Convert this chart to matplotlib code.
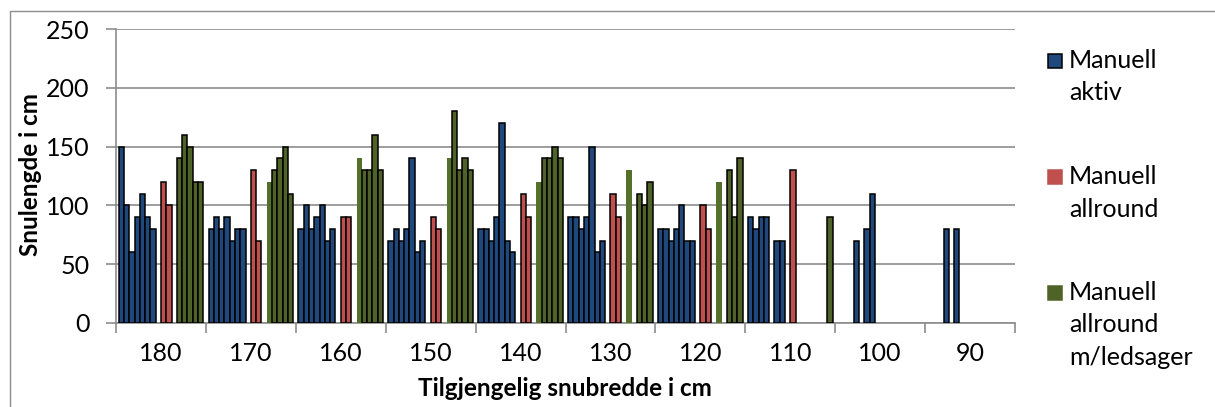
import matplotlib
matplotlib.use("Agg")
import matplotlib.pyplot as plt
from matplotlib.patches import Rectangle

plt.rcParams['font.family'] = ['Lato', 'DejaVu Sans']

# one entry per 10 cm group (label), slots inside a group: 7 aktiv, 2 allround, 5 ledsager
groups = ["180", "170", "160", "150", "140", "130", "120", "110", "100", "90"]
aktiv = [[150, 100, 60, 90, 110, 90, 80],
         [80, 90, 80, 90, 70, 80, 80],
         [80, 100, 80, 90, 100, 70, 80],
         [70, 80, 70, 80, 140, 60, 70],
         [80, 80, 70, 90, 170, 70, 60],
         [90, 90, 80, 90, 150, 60, 70],
         [80, 80, 70, 80, 100, 70, 70],
         [90, 80, 90, 90, 0, 70, 70],
         [0, 0, 0, 70, 0, 80, 110],
         [0, 0, 0, 80, 0, 80, 0]]
allround = [[120, 100], [130, 70], [90, 90], [90, 80], [110, 90],
            [110, 90], [100, 80], [130, 0], [0, 0], [0, 0]]
ledsager = [[140, 160, 150, 120, 120],
            [120, 130, 140, 150, 110],
            [140, 130, 130, 160, 130],
            [140, 180, 130, 140, 130],
            [120, 140, 140, 150, 140],
            [130, 0, 110, 100, 120],
            [120, 0, 130, 90, 140],
            [0, 0, 0, 0, 90],
            [0, 0, 0, 0, 0],
            [0, 0, 0, 0, 0]]
# first ledsager bar drawn without outline in these groups
no_edge = [False, True, True, True, True, True, True, False, False, False]

blue = "#1F497D"
red = "#C0504D"
green = "#4F6228"
grey = "#8C8C8C"

W, H = 1215, 407
fig = plt.figure(figsize=(W / 100, H / 100), dpi=100)
ax = fig.add_axes([116 / W, 1 - 322.7 / H, (1015 - 116) / W, (322.7 - 29.3) / H])

n = 17
for k in range(len(groups)):
    x0 = n * k
    xs = [x0 + 1 + i for i, v in enumerate(aktiv[k]) if v]
    hs = [v for v in aktiv[k] if v]
    ax.bar(xs, hs, width=1, color=blue, edgecolor="black", linewidth=1.1, zorder=3)
    xs = [x0 + 9 + i for i, v in enumerate(allround[k]) if v]
    hs = [v for v in allround[k] if v]
    ax.bar(xs, hs, width=1, color=red, edgecolor="black", linewidth=1.1, zorder=3)
    for i, v in enumerate(ledsager[k]):
        if not v:
            continue
        if i == 0 and no_edge[k]:
            ax.bar(x0 + 12 + i, v, width=1, color="#55702a", linewidth=0, zorder=3)
        else:
            ax.bar(x0 + 12 + i, v, width=1, color=green, edgecolor="black",
                   linewidth=1.1, zorder=3)

ax.set_xlim(0, n * len(groups))
ax.set_ylim(0, 250)
ax.set_yticks(range(0, 251, 50))
ax.yaxis.grid(True, color=grey, linewidth=1.2, zorder=0)
ax.set_axisbelow(True)

ax.set_xticks([n * k for k in range(len(groups) + 1)])
ax.set_xticklabels([])
ax.set_xticks([n * k + n / 2 for k in range(len(groups))], minor=True)
ax.set_xticklabels(groups, minor=True)
ax.tick_params(axis="x", which="major", length=7, width=1.2, color=grey, direction="out")
ax.tick_params(axis="x", which="minor", length=0, pad=14, labelsize=18)
ax.tick_params(axis="y", length=7, width=1.2, color=grey, direction="out", pad=12, labelsize=18)

for s in ["top", "right"]:
    ax.spines[s].set_visible(False)
for s in ["left", "bottom"]:
    ax.spines[s].set_color(grey)
    ax.spines[s].set_linewidth(1.2)

fig.text(31 / W, 1 - 174 / H, "Snulengde i cm", rotation=90, ha="center", va="center",
         fontsize=17.5, fontweight="bold")
fig.text(565 / W, 1 - 388 / H, "Tilgjengelig snubredde i cm", ha="center", va="center",
         fontsize=17.5, fontweight="bold")

# legend
entries = [("Manuell\naktiv", blue, True, 61),
           ("Manuell\nallround", red, False, 177),
           ("Manuell\nallround\nm/ledsager", green, False, 293)]
for text, col, edge, ytop in entries:
    fig.add_artist(Rectangle((1048 / W, 1 - (ytop + 7) / H), 14 / W, 14 / H,
                             transform=fig.transFigure, facecolor=col,
                             edgecolor="black" if edge else col, linewidth=1.1))
    fig.text(1069 / W, 1 - (ytop - 12) / H, text, ha="left", va="top",
             fontsize=18, linespacing=1.5)

# chart border
fig.add_artist(Rectangle((10 / W, -0.05), 1.1, 1 - 11 / H + 0.05, transform=fig.transFigure,
                         fill=False, edgecolor=grey, linewidth=1))

fig.savefig("out.png", dpi=100)
